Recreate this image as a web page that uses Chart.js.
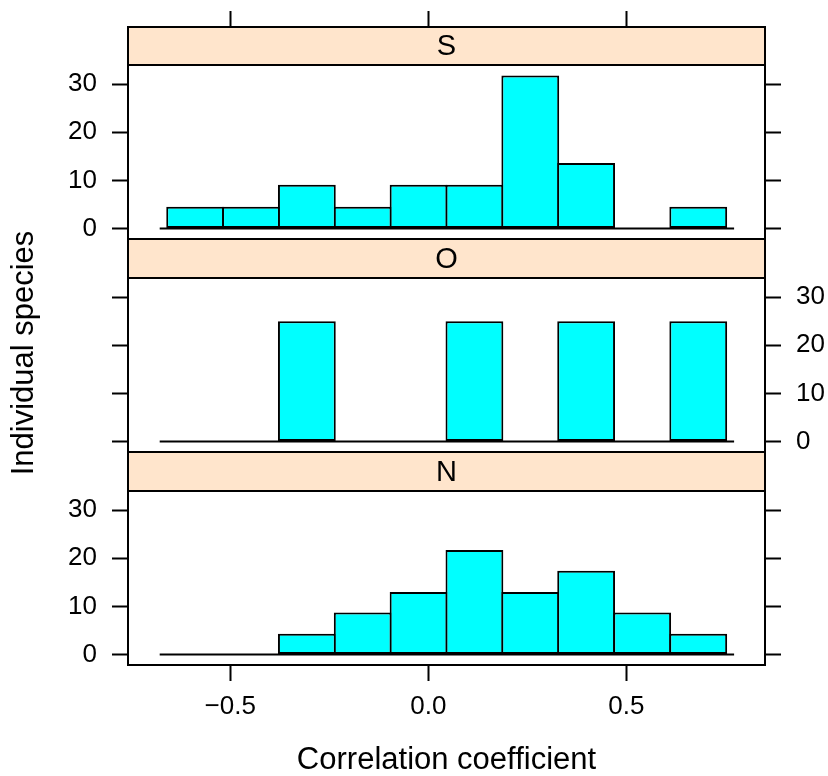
<!DOCTYPE html>
<html>
<head>
<meta charset="utf-8">
<script src="https://cdn.jsdelivr.net/npm/chart.js@4/dist/chart.umd.min.js"></script>
<style>
  body { margin: 0; background: #fff; }
  #wrap { position: relative; width: 828px; height: 776px; }
  #wrap canvas { position: absolute; left: 0; top: 0; }
</style>
</head>
<body>
<div id="wrap">
  <canvas id="panelS" width="828" height="776"></canvas>
  <canvas id="panelO" width="828" height="776"></canvas>
  <canvas id="panelN" width="828" height="776"></canvas>
</div>
<script>
'use strict';

// bin edges of the histogram (correlation coefficient)
const breaks = [-0.659, -0.518, -0.377, -0.236, -0.095, 0.046, 0.187, 0.328, 0.469, 0.611, 0.752];
// percent of species per bin, one list per group
const valuesS = [4.5, 4.5, 9.1, 4.5, 9.1, 9.1, 31.8, 13.6, 0, 4.5];
const valuesO = [0, 0, 25, 0, 0, 25, 0, 25, 0, 25];
const valuesN = [0, 0, 4.3, 8.7, 13.0, 21.7, 13.0, 17.4, 8.7, 4.3];
const panelNames = ['S', 'O', 'N'];
const baseline = [-0.678, 0.772];
const xTicks = [-0.5, 0, 0.5];
const xTickLabels = ['\u22120.5', '0.0', '0.5'];
const yTicks = [0, 10, 20, 30];
const yTickLabels = ['0', '10', '20', '30'];
const xRange = [-0.758, 0.85];
const yRange = [-2.2, 34.0];

const W = 828, H = 776;
const plotLeft = 128, plotRight = 765;
const FONT = '"Liberation Sans", Arial, Helvetica, sans-serif';
Chart.defaults.font.family = FONT;
Chart.defaults.color = '#000';

const mids = breaks.slice(1).map(function (b, i) { return (breaks[i] + b) / 2; });

const panels = [
    {id: 'panelS', values: valuesS, stripTop: 27, top: 65, bottom: 239, labelSide: 'left', topTicks: true},
    {id: 'panelO', values: valuesO, stripTop: 239, top: 278, bottom: 452, labelSide: 'right'},
    {id: 'panelN', values: valuesN, stripTop: 452, top: 491, bottom: 665, labelSide: 'left', bottomTicks: true, ylab: true}
];

const stripPlugin = {
    id: 'strip',
    afterDraw(chart, args, opts) {
        const ctx = chart.ctx;
        const a = chart.chartArea;
        const h = a.top - opts.top;
        ctx.save();
        ctx.fillStyle = '#FFE5CC';
        ctx.fillRect(a.left, opts.top, a.right - a.left, h);
        ctx.lineWidth = 2;
        ctx.strokeStyle = '#000';
        ctx.strokeRect(a.left, opts.top, a.right - a.left, h);
        ctx.fillStyle = '#000';
        ctx.font = '29px ' + FONT;
        ctx.textAlign = 'center';
        ctx.textBaseline = 'middle';
        ctx.fillText(opts.label, (a.left + a.right) / 2, opts.top + h / 2 + 1);
        if (opts.ylab) {
            ctx.translate(24, 353);
            ctx.rotate(-Math.PI / 2);
            ctx.font = '31px ' + FONT;
            ctx.fillText('Individual species', 0, 0);
        }
        ctx.restore();
    }
};

function yAxis(p, side) {
    const showLabels = p.labelSide === side;
    return {
        type: 'linear',
        position: side,
        min: yRange[0],
        max: yRange[1],
        afterBuildTicks: function (s) { s.ticks = yTicks.map(function (v) { return {value: v}; }); },
        grid: {drawOnChartArea: false, tickLength: 16, tickWidth: 2, tickColor: '#000'},
        border: {display: true, color: '#000', width: 2},
        ticks: {
            display: showLabels,
            padding: 15,
            font: {size: 26},
            color: '#000',
            callback: function (v, i) { return yTickLabels[i]; }
        },
        afterFit: function (s) { s.width = side === 'left' ? plotLeft : W - plotRight; }
    };
}

panels.forEach(function (p, idx) {
    new Chart(document.getElementById(p.id), {
        type: 'bar',
        data: {
            datasets: [
                {
                    type: 'line',
                    data: baseline.map(function (x) { return {x: x, y: 0}; }),
                    borderColor: '#000',
                    borderWidth: 2,
                    pointRadius: 0,
                    xAxisID: 'x',
                    yAxisID: 'y',
                    order: 0
                },
                {
                    data: mids.map(function (m, i) { return {x: m, y: p.values[i]}; }),
                    backgroundColor: '#00FFFF',
                    borderColor: '#000',
                    borderWidth: 2,
                    borderSkipped: false,
                    barPercentage: 1.035,
                    categoryPercentage: 1,
                    xAxisID: 'x',
                    yAxisID: 'y',
                    order: 1
                }
            ]
        },
        options: {
            responsive: false,
            animation: false,
            events: [],
            layout: {padding: 0},
            plugins: {
                legend: {display: false},
                tooltip: {enabled: false},
                strip: {label: panelNames[idx], top: p.stripTop, ylab: !!p.ylab}
            },
            scales: {
                x: {
                    type: 'linear',
                    position: 'bottom',
                    min: xRange[0],
                    max: xRange[1],
                    offset: false,
                    afterBuildTicks: function (s) { s.ticks = xTicks.map(function (v) { return {value: v}; }); },
                    grid: {display: !!p.bottomTicks, drawOnChartArea: false, offset: false, tickLength: 16, tickWidth: 2, tickColor: '#000'},
                    border: {display: true, color: '#000', width: 2},
                    ticks: {
                        display: !!p.bottomTicks,
                        padding: 10,
                        font: {size: 26},
                        color: '#000',
                        maxRotation: 0,
                        autoSkip: false,
                        callback: function (v, i) { return xTickLabels[i]; }
                    },
                    title: {
                        display: !!p.bottomTicks,
                        text: 'Correlation coefficient',
                        font: {size: 31, lineHeight: 1},
                        color: '#000',
                        padding: 0
                    },
                    afterFit: function (s) { s.height = H - p.bottom; }
                },
                xTop: {
                    type: 'linear',
                    position: 'top',
                    min: xRange[0],
                    max: xRange[1],
                    offset: false,
                    afterBuildTicks: function (s) { s.ticks = xTicks.map(function (v) { return {value: v}; }); },
                    grid: {display: !!p.topTicks, drawOnChartArea: false, offset: false, tickLength: p.top - 11, tickWidth: 2, tickColor: '#000'},
                    border: {display: true, color: '#000', width: 2},
                    ticks: {display: false},
                    afterFit: function (s) { s.height = p.top; }
                },
                y: yAxis(p, 'left'),
                y2: yAxis(p, 'right')
            }
        },
        plugins: [stripPlugin]
    });
});
</script>
</body>
</html>
